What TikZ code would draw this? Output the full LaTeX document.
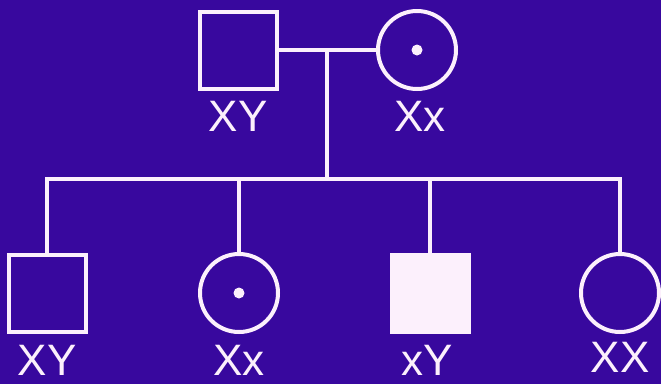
\documentclass[tikz,border=0pt]{standalone}
\usepackage{fontspec}
\setmainfont{Liberation Sans}
\definecolor{bgpurple}{RGB}{56,8,158}
\definecolor{chalk}{RGB}{252,240,252}
\tikzset{
  male/.style={draw=chalk, line width=4pt, minimum size=77pt, inner sep=0pt},
  female/.style={male, circle, minimum size=78pt},
  affected/.style={fill=chalk},
  carrier/.style={circle, fill=chalk, inner sep=0pt, minimum size=11pt},
  geno/.style={text=chalk, font=\fontsize{44}{44}\selectfont, inner sep=0pt},
  link/.style={draw=chalk, line width=4pt, line join=miter}
}
\begin{document}
\begin{tikzpicture}[x=1pt, y=-1pt]
    % 背景
    \fill[bgpurple] (0,0) rectangle (661,384);
    \useasboundingbox (0,0) rectangle (661,384);
    % 亲代
    \node[male] (dad) at (238,50) {};
    \node[female] (mum) at (417,50) {};
    \node[carrier] (mumdot) at (mum.center) {};
    \node[geno] (dadg) at (238,116) {XY};
    \node[geno] (mumg) at (420,116) {Xx};
    % 子代
    \node[male] (son1) at (47,293) {};
    \node[female] (dau1) at (239,293) {};
    \node[carrier] (dau1dot) at (dau1.center) {};
    \node[male, affected] (son2) at (430,293) {};
    \node[female] (dau2) at (620,293) {};
    \node[geno] (son1g) at (47,360) {XY};
    \node[geno] (dau1g) at (239,360) {Xx};
    \node[geno] (son2g) at (427,360) {xY};
    \node[geno] (dau2g) at (620,357) {XX};
    % 连线
    \coordinate (mid) at (327,50);
    \coordinate (bar) at (327,179);
    \draw[link] (dad) -- (mum);
    \draw[link] (mid) -- (bar);
    \draw[link] (son1.north) -- (son1 |- bar) -- (dau2 |- bar) -- (dau2.north);
    \draw[link] (dau1.north) -- (dau1 |- bar);
    \draw[link] (son2.north) -- (son2 |- bar);
\end{tikzpicture}
\end{document}
